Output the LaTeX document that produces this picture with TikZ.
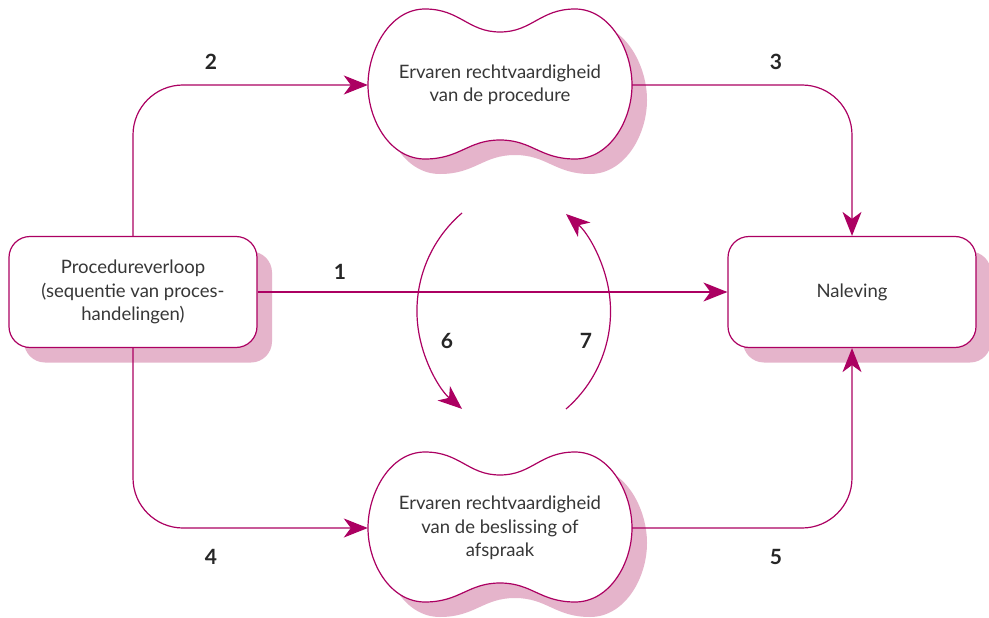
\documentclass[tikz,border=0pt]{standalone}
\usepackage{fontspec}
\setmainfont{Lato}
\usetikzlibrary{arrows.meta,shadows}
\definecolor{mag}{RGB}{172,0,98}
\definecolor{shad}{RGB}{229,180,203}
\definecolor{txt}{RGB}{55,55,55}
\tikzset{
  conn/.style={draw=mag,line width=1.2pt,-{Stealth[length=24pt,width=19pt,inset=7pt]}},
  plainline/.style={draw=mag,line width=1.2pt},
  boxnode/.style={draw=mag,line width=1.2pt,fill=white,rounded corners=21pt,
    minimum width=248pt,minimum height=111pt,text=txt,align=center,
    font=\fontsize{18.5}{23.5}\selectfont,
    drop shadow={shadow xshift=15pt,shadow yshift=-15pt,fill=shad,opacity=1}},
  blobnode/.style={minimum width=264pt,minimum height=150pt,text=txt,align=center,
    font=\fontsize{18.5}{23.5}\selectfont,inner sep=0pt},
  numlabel/.style={text=black!85,font=\fontsize{21}{24}\bfseries\selectfont},
  blob/.pic={
    \fill[shad,shift={(15,15)}] (-132,0) .. controls (-132,-35) and (-110,-76) .. (-75,-76)
      .. controls (-40,-76) and (-32,-53) .. (0,-53)
      .. controls (32,-53) and (40,-76) .. (75,-76)
      .. controls (110,-76) and (132,-35) .. (132,0)
      .. controls (132,35) and (110,74) .. (75,74)
      .. controls (40,74) and (32,55) .. (0,55)
      .. controls (-32,55) and (-40,74) .. (-75,74)
      .. controls (-110,74) and (-132,35) .. (-132,0) -- cycle;
    \filldraw[fill=white,draw=mag,line width=1.2pt] (-132,0) .. controls (-132,-35) and (-110,-76) .. (-75,-76)
      .. controls (-40,-76) and (-32,-53) .. (0,-53)
      .. controls (32,-53) and (40,-76) .. (75,-76)
      .. controls (110,-76) and (132,-35) .. (132,0)
      .. controls (132,35) and (110,74) .. (75,74)
      .. controls (40,74) and (32,55) .. (0,55)
      .. controls (-32,55) and (-40,74) .. (-75,74)
      .. controls (-110,74) and (-132,35) .. (-132,0) -- cycle;
  }
}
\begin{document}
\begin{tikzpicture}[x=1pt,y=-1pt]
\useasboundingbox (0,0) rectangle (989,618);
\fill[white] (0,0) rectangle (989,618);

\pic at (500,85) {blob};
\pic at (500,528) {blob};

\node[blobnode] (top) at (500,85) {Ervaren rechtvaardigheid\\van de procedure};
\node[blobnode] (bot) at (500,528) {Ervaren rechtvaardigheid\\van de beslissing of\\afspraak};

\node[boxnode] (proc) at (133,292) {Procedureverloop\\(sequentie van proces-\\handelingen)};
\node[boxnode] (nal) at (852,292) {Naleving};

\draw[conn,rounded corners=50pt] (proc.north) |- (top.west);
\draw[conn,rounded corners=50pt] (top.east) -| (nal.north);
\draw[conn] (proc.east) -- (nal.west);
\draw[conn,rounded corners=50pt] (proc.south) |- (bot.west);
\draw[conn,rounded corners=50pt] (bot.east) -| (nal.south);

\coordinate (a6) at (462,213);
\coordinate (a7) at (566,409);
\draw[conn] (a6) arc[start angle=229.4,end angle=130.6,radius=129];
\draw[conn] (a7) arc[start angle=49.1,end angle=-49.1,radius=129];

\node[numlabel] (n1) at (340,272) {1};
\node[numlabel] (n2) at (211,62) {2};
\node[numlabel] (n3) at (776,62) {3};
\node[numlabel] (n4) at (211,557) {4};
\node[numlabel] (n5) at (776,557) {5};
\node[numlabel] (n6) at (447,341) {6};
\node[numlabel] (n7) at (586,341) {7};
\end{tikzpicture}
\end{document}
